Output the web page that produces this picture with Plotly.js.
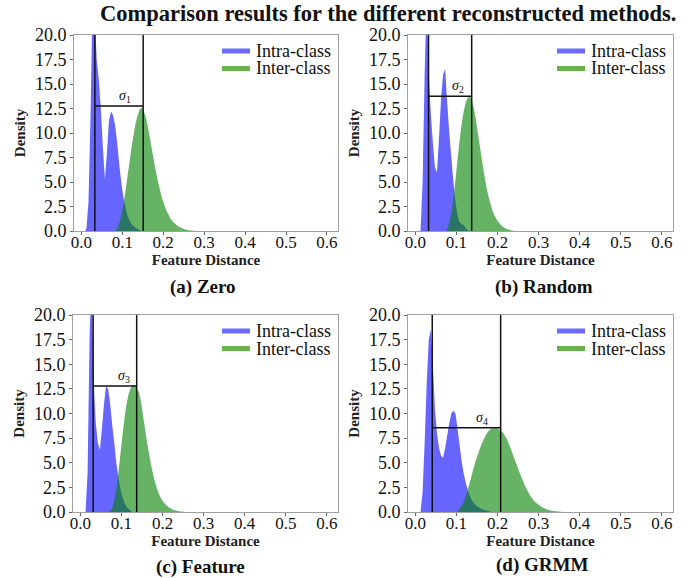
<!DOCTYPE html>
<html><head><meta charset="utf-8">
<script src="https://cdn.plot.ly/plotly-3.0.1.min.js"></script>
<style>html,body{margin:0;padding:0;background:#fff}#chart{width:689px;height:578px}</style>
</head><body><div id="chart"></div>
<script>
// ---- data (densities, bins of width 0.005) ----
const binWidth = 0.005;
const panelNames = ["(a) Zero", "(b) Random", "(c) Feature", "(d) GRMM"];
const seriesNames = ["Intra-class", "Inter-class"];
const xTickVals = [0, 0.1, 0.2, 0.3, 0.4, 0.5, 0.6];
const xTickText = ["0.0", "0.1", "0.2", "0.3", "0.4", "0.5", "0.6"];
const yTickVals = [0, 2.5, 5, 7.5, 10, 12.5, 15, 17.5, 20];
const yTickText = ["0.0", "2.5", "5.0", "7.5", "10.0", "12.5", "15.0", "17.5", "20.0"];

// left edge of the first bin of each series
const intraStart = [0.010, 0.010, 0.010, 0.010];
const interStart = [0.085, 0.075, 0.070, 0.100];

const intraZero = [0.3, 3, 12, 24, 22, 17.5, 15.5, 12.5, 8.5, 5.3, 8, 11.3, 12.2, 11.8, 10.8, 9, 6.8, 5, 3.5, 2.5, 1.6, 1.1, 0.7, 0.5, 0.3, 0.2, 0.1];
const interZero = [0.3, 0.8, 1.6, 2.6, 4, 5.5, 7, 8.5, 9.8, 11, 11.8, 12.4, 12.6, 12.2, 11.6, 10.6, 9.5, 8.3, 7.1, 6, 5, 4.1, 3.3, 2.7, 2.1, 1.7, 1.3, 1.0, 0.8, 0.6, 0.45, 0.35, 0.25, 0.18, 0.12, 0.08, 0.05, 0.03, 0.02];

const intraRandom = [0, 5, 16, 24, 16, 12, 9, 6.5, 6, 9.5, 13.5, 16, 16.5, 13, 10, 7.5, 5, 3, 1.6, 0.9, 0.7, 0.6, 0.3, 0.1];
const interRandom = [0.2, 0.8, 1.8, 3.3, 5.2, 7.3, 9.2, 10.9, 12.2, 13.1, 13.6, 13.7, 13.3, 12.5, 11.3, 9.9, 8.5, 7.1, 5.8, 4.6, 3.6, 2.8, 2.1, 1.6, 1.2, 0.9, 0.65, 0.45, 0.3, 0.2, 0.12, 0.07, 0.04];

const intraFeature = [0, 4, 18, 24, 13, 9, 7, 6.3, 8.5, 11, 12.8, 12.5, 11, 8.8, 7, 5, 3.5, 2.3, 1.5, 0.9, 0.5, 0.3, 0.15];
const interFeature = [0.1, 0.4, 1.2, 2.4, 4, 5.9, 7.8, 9.6, 11, 12, 12.6, 12.9, 12.9, 12.5, 12.2, 11.2, 9.8, 8.4, 7, 5.8, 4.7, 3.7, 2.9, 2.2, 1.7, 1.3, 1, 0.75, 0.55, 0.4, 0.3, 0.2, 0.14, 0.1, 0.06, 0.04, 0.02];

const intraGRMM = [0, 2, 7, 13, 17.5, 18.5, 15, 10.5, 8, 6.5, 5.7, 5.5, 6.5, 7.8, 9, 10, 10.3, 10, 8.5, 6.8, 5.2, 3.9, 3, 2.2, 1.6, 1.2, 0.9, 0.65, 0.5, 0.38, 0.28, 0.2, 0.14, 0.09, 0.05];
const interGRMM = [0.1, 0.3, 0.6, 1.0, 1.6, 2.3, 3.0, 3.8, 4.6, 5.3, 5.9, 6.5, 7.0, 7.5, 7.9, 8.2, 8.4, 8.5, 8.5, 8.5, 8.4, 8.3, 8.1, 7.8, 7.4, 6.9, 6.4, 5.8, 5.2, 4.7, 4.1, 3.6, 3.1, 2.6, 2.2, 1.8, 1.5, 1.2, 1.0, 0.8, 0.65, 0.5, 0.4, 0.3, 0.24, 0.18, 0.13, 0.1, 0.07, 0.05, 0.03, 0.02];

const sigmaLeft = [0.033, 0.032, 0.031, 0.041];
const sigmaRight = [0.151, 0.137, 0.137, 0.2075];
const sigmaLevel = [12.75, 13.75, 12.8, 8.55];
const sigmaIndex = ["1", "2", "3", "4"];
const sigmaLabelX = [0.107, 0.103, 0.107, 0.161];

const intraAll = [intraZero, intraRandom, intraFeature, intraGRMM];
const interAll = [interZero, interRandom, interFeature, interGRMM];

// ---- styling / layout ----
const W = 689, H = 578;
const serif = "Liberation Serif";
const intraFill = "rgb(102,102,255)";        // blue at alpha 0.6 over white
const interFill = "rgba(0,128,0,0.6)";       // green at alpha 0.6 (darkens where it overlaps blue)
const legendColors = ["rgb(108,108,252)", "rgb(104,178,78)"];
// panel pixel boxes [left, right, top, bottom]
const boxes = [[74, 338, 35, 231], [408, 673, 35, 231], [73, 338, 315, 512], [408, 673, 315, 512]];
const captionPos = [[203, 287], [544, 287], [200, 567], [542, 565]];

// histogram outline through bin centres, closed to zero at both outer edges
function histXY(start, vals) {
  const xs = [+start.toFixed(5)], ys = [0];
  for (let i = 0; i < vals.length; i++) {
    xs.push(+(start + (i + 0.5) * binWidth).toFixed(5));
    ys.push(vals[i]);
  }
  xs.push(+(start + vals.length * binWidth).toFixed(5)); ys.push(0);
  return [xs, ys];
}
const px = v => v / W, py = v => (H - v) / H;

const traces = [];
const layout = {
  width: W, height: H, margin: {l: 0, r: 0, t: 0, b: 0},
  paper_bgcolor: "#fff", plot_bgcolor: "#fff", showlegend: false,
  font: {family: serif, color: "#111"},
  annotations: [], shapes: []
};

for (let p = 0; p < 4; p++) {
  const sfx = p === 0 ? "" : String(p + 1);
  const xa = "x" + sfx, ya = "y" + sfx;
  const [l, r, t, b] = boxes[p];
  layout["xaxis" + sfx] = {
    domain: [px(l), px(r)], anchor: ya, range: [-0.018, 0.627],
    tickvals: xTickVals, ticktext: xTickText, ticks: "outside", ticklen: 3, tickcolor: "#666",
    ticklabelstandoff: -7,
    showline: true, linecolor: "#a0a0a0", linewidth: 1, mirror: true,
    showgrid: false, zeroline: false,
    tickfont: {family: serif, size: 17, color: "#111"},
    title: {text: "<b>Feature Distance</b>", font: {family: serif, size: 15, color: "#222"}, standoff: 0}
  };
  layout["yaxis" + sfx] = {
    domain: [py(b), py(t)], anchor: xa, range: [0, 20],
    tickvals: yTickVals, ticktext: yTickText, ticks: "outside", ticklen: 3, tickcolor: "#666",
    showline: true, linecolor: "#a0a0a0", linewidth: 1, mirror: true,
    showgrid: false, zeroline: false,
    tickfont: {family: serif, size: 18, color: "#111"},
    title: {text: "<b>Density</b>", font: {family: serif, size: 15, color: "#222"}, standoff: 5}
  };

  const [ix, iy] = histXY(intraStart[p], intraAll[p]);
  const [ex, ey] = histXY(interStart[p], interAll[p]);
  traces.push({type: "scatter", mode: "none", x: ix, y: iy, xaxis: xa, yaxis: ya, name: seriesNames[0],
    fill: "tozeroy", fillcolor: intraFill});
  traces.push({type: "scatter", mode: "none", x: ex, y: ey, xaxis: xa, yaxis: ya, name: seriesNames[1],
    fill: "tozeroy", fillcolor: interFill});

  // sigma marker lines
  const lineStyle = {color: "#111", width: 1.5};
  traces.push({type: "scatter", mode: "lines", x: [sigmaLeft[p], sigmaLeft[p]], y: [0, 20], xaxis: xa, yaxis: ya, line: lineStyle});
  traces.push({type: "scatter", mode: "lines", x: [sigmaRight[p], sigmaRight[p]], y: [0, 20], xaxis: xa, yaxis: ya, line: lineStyle});
  traces.push({type: "scatter", mode: "lines", x: [sigmaLeft[p], sigmaRight[p]], y: [sigmaLevel[p], sigmaLevel[p]], xaxis: xa, yaxis: ya, line: lineStyle});

  layout.annotations.push({xref: xa, yref: ya, x: sigmaLabelX[p], y: sigmaLevel[p], yanchor: "bottom", yshift: -1,
    text: "<i>σ</i><sub>" + sigmaIndex[p] + "</sub>", showarrow: false, font: {family: serif, size: 14, color: "#111"}});

  // legend (patch + label) in the upper right of each panel
  for (let k = 0; k < 2; k++) {
    const cy = t + 16 + k * 17.5;
    layout.shapes.push({type: "rect", xref: "paper", yref: "paper", x0: px(r - 116), x1: px(r - 88),
      y0: py(cy + 2.5), y1: py(cy - 2.5), fillcolor: legendColors[k], line: {width: 0}});
    layout.annotations.push({xref: "paper", yref: "paper", x: px(r - 84), y: py(cy), xanchor: "left", yanchor: "middle",
      text: seriesNames[k], showarrow: false, font: {family: serif, size: 18, color: "#111"}});
  }

  layout.annotations.push({xref: "paper", yref: "paper", x: px(captionPos[p][0]), y: py(captionPos[p][1]),
    xanchor: "center", yanchor: "middle", text: "<b>" + panelNames[p] + "</b>", showarrow: false,
    font: {family: serif, size: 19, color: "#111"}});
}

layout.annotations.push({xref: "paper", yref: "paper", x: px(388), y: py(13), xanchor: "center", yanchor: "middle",
  text: "<b>Comparison results for the different reconstructed methods.</b>", showarrow: false,
  font: {family: serif, size: 22.5, color: "#111"}});

Plotly.newPlot("chart", traces, layout, {displayModeBar: false, staticPlot: true});
</script>
</body></html>
